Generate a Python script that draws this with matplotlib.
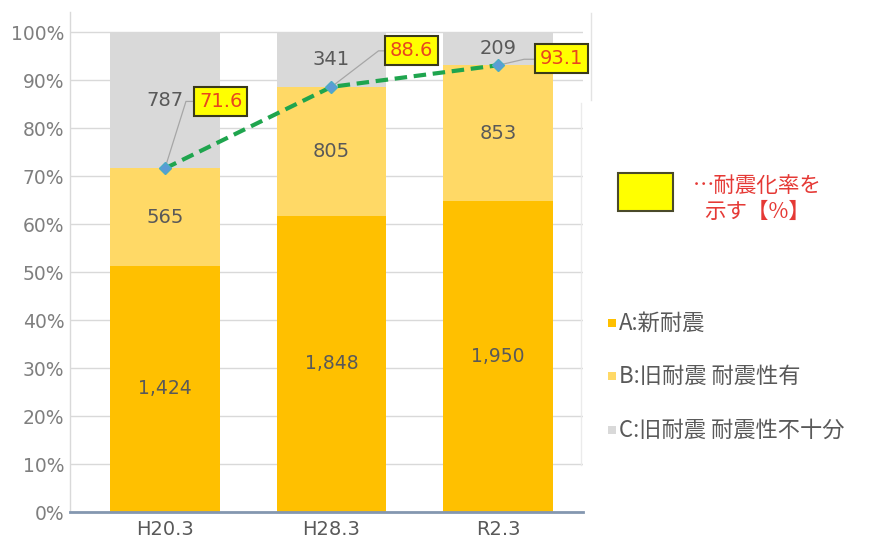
import matplotlib
matplotlib.use("Agg")
import matplotlib.pyplot as plt
from matplotlib.patches import Rectangle
from matplotlib.lines import Line2D
import numpy as np

FONT = ['DejaVu Sans', 'Noto Sans CJK JP']
JP = ['Noto Sans CJK JP', 'DejaVu Sans']
plt.rcParams['font.family'] = FONT

categories = ["H20.3", "H28.3", "R2.3"]
a_new = [1424, 1848, 1950]          # A:新耐震
b_old_ok = [565, 805, 853]          # B:旧耐震 耐震性有
c_old_ng = [787, 341, 209]          # C:旧耐震 耐震性不十分
rate = [71.6, 88.6, 93.1]           # 耐震化率 [%]
legend_labels = ["A:新耐震", "B:旧耐震 耐震性有", "C:旧耐震 耐震性不十分"]
ytick_vals = [0, 10, 20, 30, 40, 50, 60, 70, 80, 90, 100]

col_a = "#FFC000"
col_b = "#FFD966"
col_c = "#D9D9D9"
grey_txt = "#7F7F7F"
dark_txt = "#595959"

a = np.array(a_new, float)
b = np.array(b_old_ok, float)
c = np.array(c_old_ng, float)
tot = a + b + c
pa = a / tot * 100
pb = b / tot * 100
pc = c / tot * 100

fig = plt.figure(figsize=(8.74, 5.45), dpi=100)
ax = fig.add_axes([70/874, 33/545, 513/874, 500/545])
x = np.arange(len(categories))
w = 0.66

ax.bar(x, pa, w, color=col_a, zorder=2)
ax.bar(x, pb, w, bottom=pa, color=col_b, zorder=2)
ax.bar(x, pc, w, bottom=pa + pb, color=col_c, zorder=2)

ax.set_xlim(-0.57, 2.51)
ax.set_ylim(0, 104.2)
ax.set_yticks(ytick_vals)
ax.set_yticklabels([f"{v}%" for v in ytick_vals])
ax.set_xticks(x)
ax.set_xticklabels(categories)
ax.tick_params(axis='y', length=0, pad=4, labelsize=13.5, labelcolor=grey_txt)
ax.tick_params(axis='x', length=0, pad=6, labelsize=14, labelcolor=dark_txt)
ax.yaxis.grid(True, color="#D9D9D9", lw=1.0, zorder=0)
for s in ['top', 'right']:
    ax.spines[s].set_visible(False)
ax.spines['left'].set_color("#D9D9D9")
ax.spines['left'].set_linewidth(1.0)
ax.spines['bottom'].set_color("#8497B0")
ax.spines['bottom'].set_linewidth(2.0)
ax.spines['bottom'].set_zorder(3)

# segment labels
for i in range(len(categories)):
    ax.text(x[i], pa[i] / 2, f"{int(a[i]):,}", ha='center', va='center',
            fontsize=13.5, color=dark_txt, zorder=4)
    ax.text(x[i], pa[i] + pb[i] / 2, f"{int(b[i]):,}", ha='center', va='center',
            fontsize=14, color=dark_txt, zorder=4)
    ax.text(x[i], pa[i] + pb[i] + pc[i] / 2, f"{int(c[i]):,}", ha='center', va='center',
            fontsize=14, color=dark_txt, zorder=4)

# rate line
ax.plot(x, rate, color="#1FA54E", lw=3, ls=(0, (3, 1.6)), zorder=5)
ax.plot(x, rate, ls='none', marker='D', ms=6.5, mfc="#5B9BD5", mec="#4BACC6",
        mew=1, zorder=6)

# callouts: knee offset px, box centre offset px
knees = [(21, 67), (47, 36), (26, 6)]
boxes = [(56, 67), (80, 36), (63, 7)]
trans = ax.transData
inv = trans.inverted()
for i in range(len(categories)):
    kx, ky = knees[i]
    bx, by = boxes[i]
    px, py = trans.transform((x[i], rate[i]))
    p0 = (x[i], rate[i])
    p1 = inv.transform((px + kx, py + ky))
    p2 = inv.transform((px + bx - 20, py + ky))
    ax.plot([p0[0], p1[0], p2[0]], [p0[1], p1[1], p2[1]], color="#A6A6A6", lw=0.9, zorder=4)
    ax.annotate(f"{rate[i]}", xy=(x[i], rate[i]), xytext=(bx, by),
                textcoords='offset pixels', ha='center', va='center',
                fontsize=14, color="#E8461E", zorder=7,
                bbox=dict(boxstyle='square,pad=0.25', fc="#FFFF00", ec="#3A3A1A", lw=1.5))

# key box for rate
fig.patches.append(Rectangle((618/874, 1 - 211/545), 55/874, 38/545,
                             transform=fig.transFigure, fc="#FFFF00", ec="#4A4A2A", lw=1.5))
fig.text(757/874, 1 - 199/545, "…耐震化率を\n示す【%】", ha='center', va='center',
         fontsize=15.5, color="#E53935", linespacing=1.2, family=JP)

# legend (manual)
leg_y = [323, 376, 430]
for lab, cc, yy in zip(legend_labels, [col_a, col_b, col_c], leg_y):
    fig.patches.append(Rectangle((608/874, 1 - (yy + 4)/545), 8/874, 8/545,
                                 transform=fig.transFigure, fc=cc, ec='none'))
    fig.text(619/874, 1 - yy/545, lab, ha='left', va='center',
             fontsize=16, color=dark_txt, family=JP)

# faint frame remnants at right
fig.add_artist(Line2D([591/874, 591/874], [1 - 13/545, 1 - 100/545],
                      transform=fig.transFigure, color="#E3E3E3", lw=1))
fig.add_artist(Line2D([581/874, 581/874], [1 - 103/545, 1 - 465/545],
                      transform=fig.transFigure, color="#EBEBEB", lw=1))

fig.savefig("out.png", dpi=100)
